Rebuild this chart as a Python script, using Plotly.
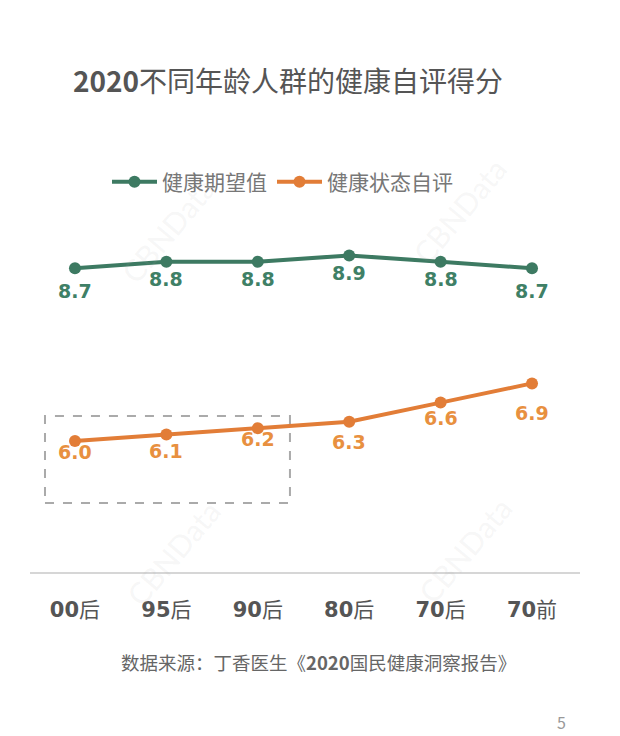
import plotly.graph_objects as go

# ---- data ----
categories = ["00后", "95后", "90后", "80后", "70后", "70前"]
tick_labels = ["<b>00</b>后", "<b>95</b>后", "<b>90</b>后", "<b>80</b>后", "<b>70</b>后", "<b>70</b>前"]
expect_name = "健康期望值"
expect_values = [8.7, 8.8, 8.8, 8.9, 8.8, 8.7]
self_name = "健康状态自评"
self_values = [6.0, 6.1, 6.2, 6.3, 6.6, 6.9]

# ---- styles ----
GREEN = "#3d7a62"
GREEN_TXT = "#3f8066"
ORANGE = "#e27d37"
ORANGE_TXT = "#e8903f"
GRAY = "#555555"
FONT = "DejaVu Sans, Noto Sans CJK SC, sans-serif"
CJK = "Noto Sans CJK SC, sans-serif"

expect_label_shift = [-23, -17, -17, -18, -17, -23]
self_label_shift = [-11, -16, -11, -20, -15, -30]

fig = go.Figure()
fig.add_trace(go.Scatter(
    x=categories, y=expect_values, name=expect_name, mode="lines+markers",
    line=dict(color=GREEN, width=4), marker=dict(color=GREEN, size=12),
))
fig.add_trace(go.Scatter(
    x=categories, y=self_values, name=self_name, mode="lines+markers",
    line=dict(color=ORANGE, width=4), marker=dict(color=ORANGE, size=12),
))

annotations = []
# faint watermarks
for wx, wy in [(0.25, 0.92), (0.78, 0.97), (0.26, 0.05), (0.79, 0.06)]:
    annotations.append(dict(xref="paper", yref="paper", x=wx, y=wy, text="CBNData",
                            xanchor="center", yanchor="middle",
                            showarrow=False, textangle=-50,
                            font=dict(family="Lato, sans-serif", size=30,
                                      color="rgba(170,170,170,0.11)")))

for c, v, s in zip(categories, expect_values, expect_label_shift):
    annotations.append(dict(x=c, y=v, text=f"<b>{v:.1f}</b>", showarrow=False,
                            yshift=s, font=dict(family=FONT, size=19, color=GREEN_TXT)))
for c, v, s in zip(categories, self_values, self_label_shift):
    annotations.append(dict(x=c, y=v, text=f"<b>{v:.1f}</b>", showarrow=False,
                            yshift=s, font=dict(family=FONT, size=19, color=ORANGE_TXT)))

annotations.append(dict(
    xref="paper", yref="paper", x=0.524, y=-0.242, yanchor="middle",
    text="数据来源：丁香医生《<b>2020</b>国民健康洞察报告》", showarrow=False,
    font=dict(family=CJK, size=18.5, color="#666666")))
annotations.append(dict(
    xref="paper", yref="paper", x=0.978, y=-0.403, yanchor="middle",
    text="5", showarrow=False, font=dict(family=CJK, size=16, color="#999999")))

# page body adds an 8px offset, so the figure is 612x728
fig.update_layout(
    width=612, height=728,
    margin=dict(l=22, r=40, t=192, b=164),
    paper_bgcolor="white", plot_bgcolor="white",
    title=dict(text="<b>2020</b>不同年龄人群的健康自评得分",
               x=65 / 612, xref="container", xanchor="left",
               y=1 - 74 / 728, yref="container", yanchor="middle",
               font=dict(family=CJK, size=28, color=GRAY)),
    showlegend=True,
    legend=dict(orientation="h", x=0.14, xanchor="left", y=1.048, yanchor="middle",
                itemwidth=45,
                font=dict(family=CJK, size=21, color="#777777"),
                bgcolor="rgba(0,0,0,0)"),
    xaxis=dict(type="category", range=[-0.492, 5.525],
               tickvals=categories, ticktext=tick_labels,
               showline=True, linecolor="#d6d6d6", linewidth=2,
               showgrid=False, zeroline=False, ticks="",
               ticklabelstandoff=18,
               tickfont=dict(family=FONT, size=21, color=GRAY)),
    yaxis=dict(range=[3.953, 9.766], visible=False, showgrid=False, zeroline=False),
    annotations=annotations,
    shapes=[dict(type="rect", xref="x", yref="y", x0=-0.328, x1=2.352, y0=5.03, y1=6.39,
                 line=dict(color="#aaaaaa", width=2, dash="dash"), layer="below")],
)

fig.write_html("out.html")
